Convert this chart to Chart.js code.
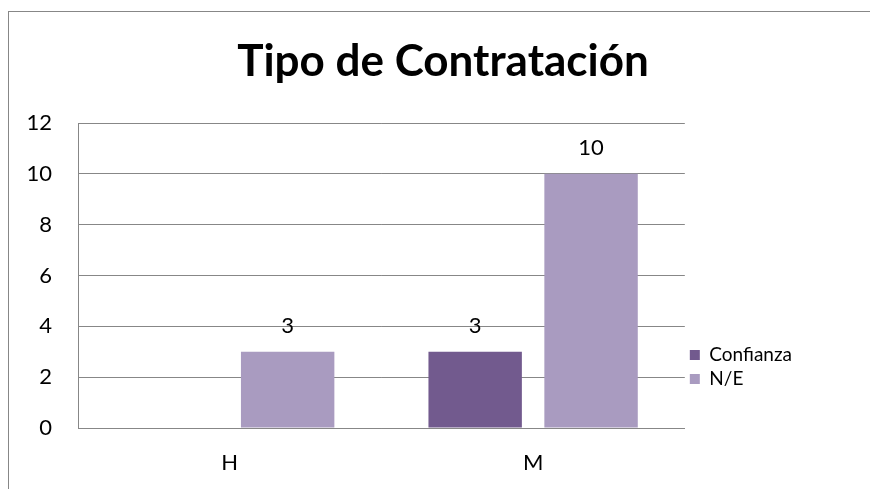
<!DOCTYPE html>
<html>
<head>
<meta charset="utf-8">
<script src="https://cdn.jsdelivr.net/npm/chart.js@4/dist/chart.umd.min.js"></script>
<style>
  html, body { margin: 0; padding: 0; background: #ffffff; }
  #wrap { position: relative; width: 870px; height: 489px; }
</style>
</head>
<body>
<div id="wrap"><canvas id="c" width="870" height="489"></canvas></div>
<script>
const categories = ['H', 'M'];
const seriesNames = ['Confianza', 'N/E'];
const confianza = [null, 3];
const ne = [3, 10];
const yTicks = [0, 2, 4, 6, 8, 10, 12];
const titleText = 'Tipo de Contratación';

const FONT = 'Lato';
const GRID = '#878787';

const frame = {
  id: 'frame',
  beforeDraw(chart) {
    const ctx = chart.ctx;
    ctx.save();
    ctx.fillStyle = '#ffffff';
    ctx.fillRect(0, 0, chart.width, chart.height);
    ctx.strokeStyle = GRID;
    ctx.lineWidth = 1;
    ctx.strokeRect(8.5, 11.5, 1000, 1000);
    ctx.restore();
  }
};

const titleShift = {
  id: 'titleShift',
  afterLayout(chart) {
    if (chart.titleBlock) {
      chart.titleBlock.left = 16;
      chart.titleBlock.right = 870;
      chart.titleBlock.width = 854;
    }
  }
};

const valueLabels = {
  id: 'valueLabels',
  afterDatasetsDraw(chart) {
    const ctx = chart.ctx;
    ctx.save();
    ctx.font = '22px ' + FONT;
    ctx.fillStyle = '#000000';
    ctx.textAlign = 'center';
    ctx.textBaseline = 'middle';
    chart.data.datasets.forEach((ds, i) => {
      const meta = chart.getDatasetMeta(i);
      meta.data.forEach((bar, j) => {
        const v = ds.data[j];
        if (v === null || v === undefined) return;
        ctx.fillText(String(v), bar.x, bar.y - 26);
      });
    });
    ctx.restore();
  }
};

new Chart(document.getElementById('c'), {
  type: 'bar',
  data: {
    labels: categories,
    datasets: [
      { label: seriesNames[0], data: confianza, backgroundColor: '#725A8E', borderWidth: 0 },
      { label: seriesNames[1], data: ne, backgroundColor: '#A99BC0', borderWidth: 0 }
    ]
  },
  options: {
    responsive: false,
    animation: false,
    devicePixelRatio: 1,
    categoryPercentage: 0.764,
    barPercentage: 0.806,
    layout: { padding: { top: 11, left: 0, right: 68, bottom: 0 } },
    plugins: {
      title: {
        display: true,
        text: titleText,
        color: '#000000',
        font: { family: FONT, size: 44, weight: 'bold', lineHeight: 1.2 },
        padding: { top: 24, bottom: 35.2 }
      },
      legend: {
        display: true,
        position: 'right',
        align: 'start',
        title: { display: true, text: ' ', font: { family: FONT, size: 10, lineHeight: 1.2 }, padding: { top: 317.5, bottom: 0 } },
        labels: {
          color: '#000000',
          font: { family: FONT, size: 19 },
          boxWidth: 10,
          boxHeight: 10,
          padding: 5
        }
      },
      tooltip: { enabled: false }
    },
    scales: {
      x: {
        grid: { display: false, drawTicks: false },
        border: { display: true, color: GRID, width: 1 },
        ticks: { color: '#000000', font: { family: FONT, size: 22 }, padding: 22 },
        afterFit(scale) { scale.height = 61; }
      },
      y: {
        min: 0,
        max: 12,
        afterBuildTicks(scale) { scale.ticks = yTicks.map(v => ({ value: v })); },
        grid: { color: GRID, lineWidth: 1, drawTicks: false },
        border: { display: true, color: GRID, width: 1 },
        ticks: { color: '#000000', font: { family: FONT, size: 22 }, padding: 26 },
        afterFit(scale) { scale.width = 78; }
      }
    }
  },
  plugins: [frame, titleShift, valueLabels]
});
</script>
</body>
</html>
